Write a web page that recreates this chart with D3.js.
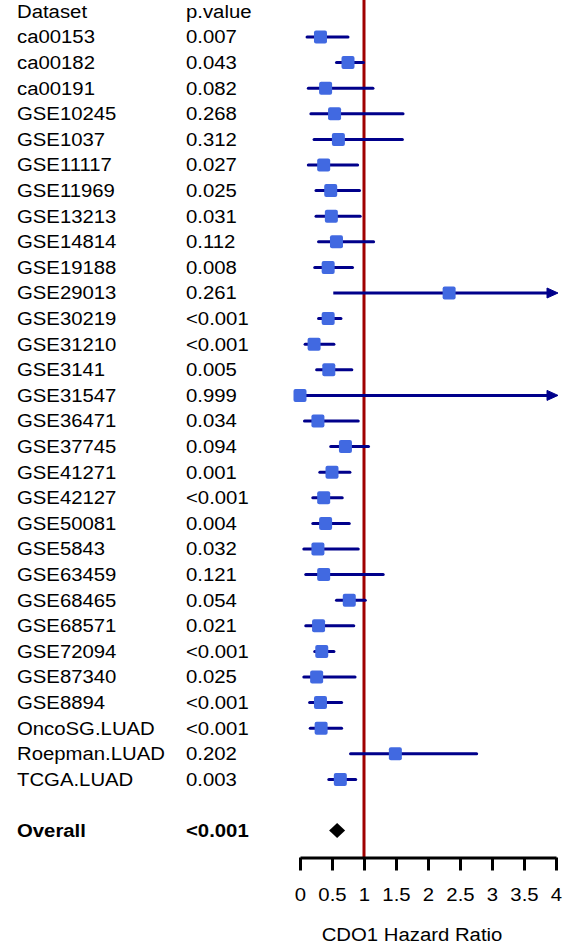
<!DOCTYPE html>
<html>
<head>
<meta charset="utf-8">
<script src="https://cdn.jsdelivr.net/npm/d3@7"></script>
<style>
  html, body { margin: 0; padding: 0; background: #fff; }
  svg { display: block; }
  text { font-family: "Liberation Sans", Arial, sans-serif; fill: #000; }
</style>
</head>
<body>
<svg id="chart" width="573" height="947"></svg>
<script>
// ---- Data ----
const datasets = ["ca00153","ca00182","ca00191","GSE10245","GSE1037","GSE11117","GSE11969","GSE13213","GSE14814","GSE19188","GSE29013","GSE30219","GSE31210","GSE3141","GSE31547","GSE36471","GSE37745","GSE41271","GSE42127","GSE50081","GSE5843","GSE63459","GSE68465","GSE68571","GSE72094","GSE87340","GSE8894","OncoSG.LUAD","Roepman.LUAD","TCGA.LUAD"];
const pvalues  = ["0.007","0.043","0.082","0.268","0.312","0.027","0.025","0.031","0.112","0.008","0.261","<0.001","<0.001","0.005","0.999","0.034","0.094","0.001","<0.001","0.004","0.032","0.121","0.054","0.021","<0.001","0.025","<0.001","<0.001","0.202","0.003"];
const hr       = [0.32,0.75,0.40,0.54,0.60,0.37,0.48,0.49,0.57,0.44,2.33,0.44,0.22,0.45,0.00,0.28,0.71,0.50,0.37,0.40,0.28,0.37,0.77,0.29,0.34,0.26,0.32,0.33,1.49,0.63];
const lower    = [0.11,0.57,0.13,0.17,0.22,0.13,0.25,0.25,0.29,0.23,0.52,0.29,0.08,0.26,0.00,0.07,0.48,0.31,0.20,0.20,0.06,0.09,0.57,0.09,0.23,0.06,0.15,0.16,0.79,0.45];
const upper    = [0.75,0.99,1.14,1.61,1.60,0.90,0.93,0.94,1.15,0.82,10.4,0.64,0.53,0.81,50.0,0.91,1.07,0.78,0.66,0.77,0.91,1.30,1.02,0.84,0.53,0.86,0.65,0.65,2.76,0.87];
const overallLabel = "Overall";
const overallP = "<0.001";
const overallHR = 0.58;
const headerLabels = ["Dataset", "p.value"];
const xTicks = [0, 0.5, 1, 1.5, 2, 2.5, 3, 3.5, 4];
const xDomain = [0, 4];
const axisTitle = "CDO1 Hazard Ratio";

// ---- Layout ----
const svg = d3.select("#chart");
const x = d3.scaleLinear().domain(xDomain).range([300, 556]);
const rowY = i => 11.4 + 25.6 * i;        // i = 0 header, 1..30 datasets, 32 overall
const col1 = 17, col2 = 186;
const fs = 18, sx = 1.13;
const axisY = 857.5;

function label(xp, yc, str, bold, anchor) {
  svg.append("text")
    .attr("transform", `translate(${xp},${yc + 6.4}) scale(${sx},1)`)
    .attr("font-size", fs)
    .attr("font-weight", bold ? "bold" : "normal")
    .attr("text-anchor", anchor || "start")
    .text(str);
}

// header
label(col1, rowY(0), headerLabels[0]);
label(col2, rowY(0), headerLabels[1]);
// rows
datasets.forEach((d, i) => {
  label(col1, rowY(i + 1), d);
  label(col2, rowY(i + 1), pvalues[i]);
});
const overallRow = datasets.length + 2;
label(col1, rowY(overallRow), overallLabel, true);
label(col2, rowY(overallRow), overallP, true);

// reference line at HR = 1
svg.append("line")
  .attr("x1", x(1)).attr("x2", x(1))
  .attr("y1", 0).attr("y2", axisY)
  .attr("stroke", "#a00000").attr("stroke-width", 3);

// CIs
const lineColor = "#00008b";
const xmax = x(xDomain[1]);
datasets.forEach((d, i) => {
  const y = rowY(i + 1);
  const x1 = x(Math.max(lower[i], xDomain[0]));
  const clipped = upper[i] > xDomain[1];
  const x2 = clipped ? xmax - 4 : x(upper[i]);
  svg.append("line")
    .attr("x1", x1).attr("x2", x2).attr("y1", y).attr("y2", y)
    .attr("stroke", lineColor).attr("stroke-width", 3)
    .attr("stroke-linecap", clipped ? "butt" : "round");
  if (clipped) {
    svg.append("path")
      .attr("d", `M${xmax - 9},${y - 5}L${xmax + 2},${y}L${xmax - 9},${y + 5}Z`)
      .attr("fill", lineColor).attr("stroke", lineColor).attr("stroke-width", 1)
      .attr("stroke-linejoin", "round");
  }
});
// boxes
datasets.forEach((d, i) => {
  const y = rowY(i + 1);
  svg.append("rect")
    .attr("x", x(hr[i]) - 6.5).attr("y", y - 6.5)
    .attr("width", 13).attr("height", 13)
    .attr("rx", 2)
    .attr("fill", "#4169e1");
});

// overall diamond
{
  const cx = x(overallHR), cy = rowY(overallRow);
  svg.append("path")
    .attr("d", `M${cx - 8},${cy}L${cx},${cy - 7.5}L${cx + 8},${cy}L${cx},${cy + 7.5}Z`)
    .attr("fill", "#000");
}

// axis
const axis = d3.axisBottom(x)
  .tickValues(xTicks)
  .tickFormat(d => String(d))
  .tickSize(13)
  .tickSizeOuter(0)
  .tickPadding(18);
const ag = svg.append("g").attr("transform", `translate(0,${axisY})`).call(axis);
ag.select(".domain").attr("stroke", "#000").attr("stroke-width", 3);
ag.selectAll(".tick line").attr("stroke", "#000").attr("stroke-width", 3);
ag.selectAll(".tick text")
  .attr("font-size", fs)
  .attr("font-family", "Liberation Sans, Arial, sans-serif")
  .attr("fill", "#000")
  .attr("transform", `scale(${sx},1)`);

// axis title
svg.append("text")
  .attr("transform", `translate(${x(1.75)},940.5) scale(${sx},1)`)
  .attr("font-size", fs)
  .attr("text-anchor", "middle")
  .text(axisTitle);
</script>
</body>
</html>
